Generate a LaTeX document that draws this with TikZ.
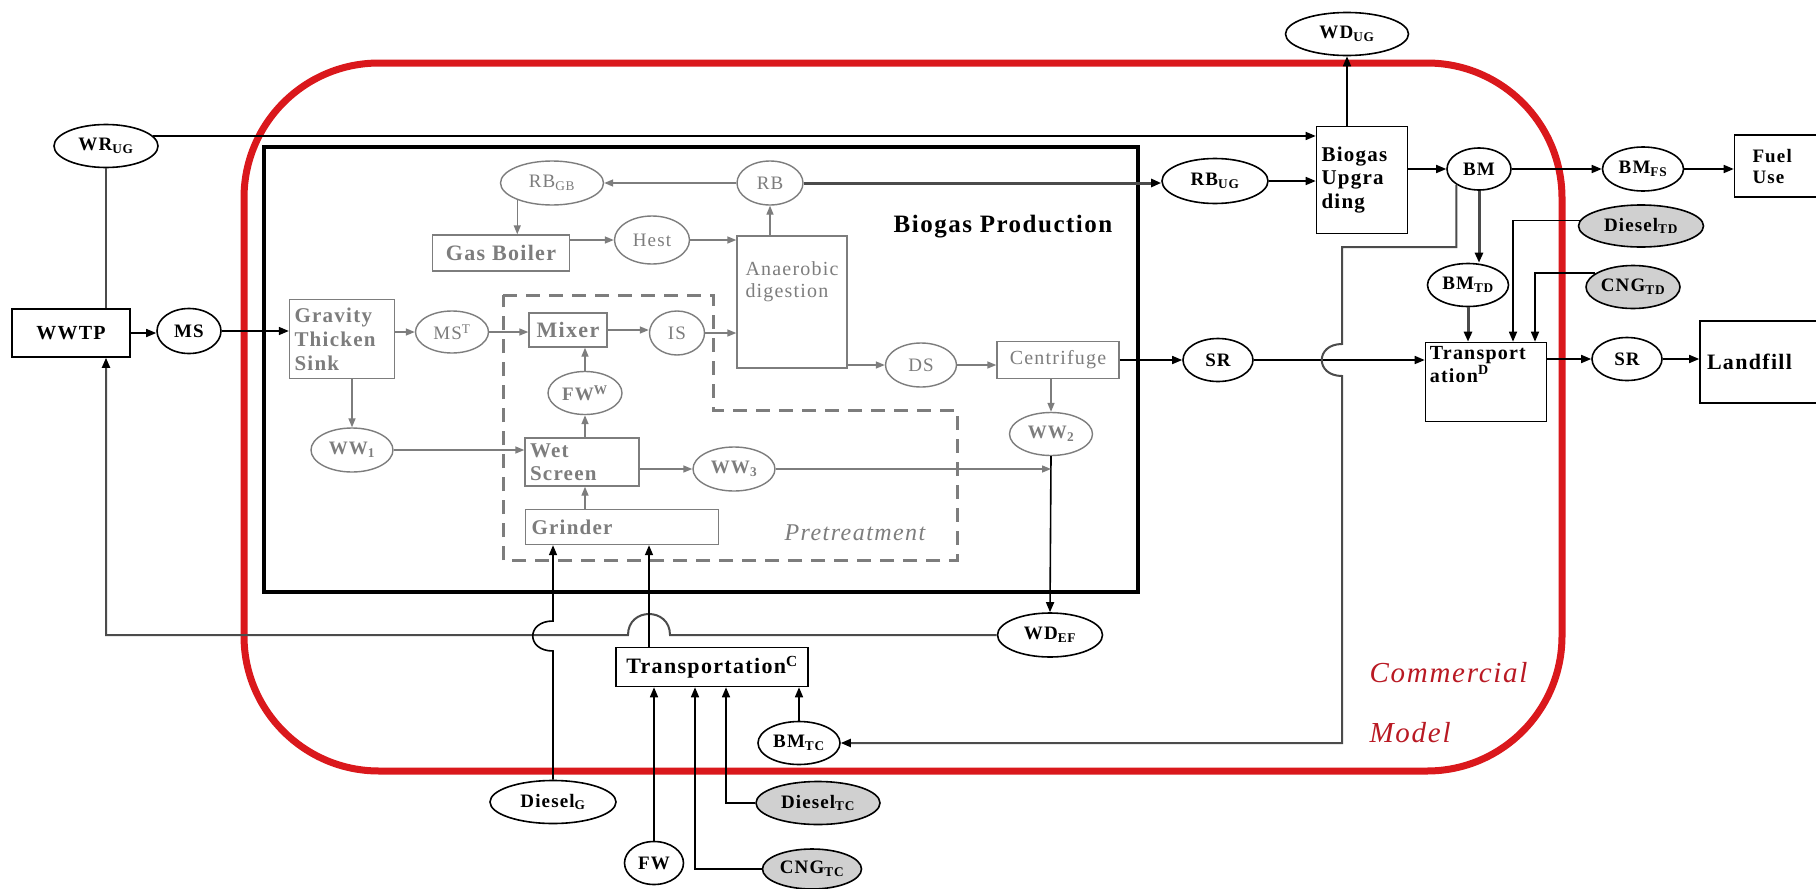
\documentclass[tikz,border=0pt]{standalone}
\usepackage{fontspec}
\setmainfont{Liberation Serif}[LetterSpace=6]
\usetikzlibrary{arrows.meta,shapes.geometric,calc}
\definecolor{ig}{RGB}{125,125,125}
\definecolor{dg}{RGB}{75,75,75}
\definecolor{fg}{RGB}{208,208,208}
\definecolor{rl}{RGB}{218,24,28}
\definecolor{rt}{RGB}{185,25,35}
\begin{document}
\begin{tikzpicture}[x=1pt,y=-1pt,
  ob/.style={draw, line width=1.6pt, fill=white, inner sep=0pt, font=\fontsize{19}{22}\selectfont\bfseries},
  oe/.style={ob, ellipse},
  obox/.style={ob, rectangle, inner xsep=5pt, align=left},
  ge/.style={draw=ig, text=ig, line width=1.4pt, fill=white, ellipse, inner sep=0pt, font=\fontsize{19}{22}\selectfont},
  gbox/.style={draw=ig, text=ig, line width=1.4pt, fill=white, rectangle, inner sep=0pt, inner xsep=5pt, align=left, font=\fontsize{21}{24}\selectfont\bfseries},
  ar/.style={line width=1.6pt, -{Triangle[length=10pt,width=8pt]}},
  gar/.style={draw=ig, line width=1.4pt, -{Triangle[length=9pt,width=7pt]}},
  thk/.style={draw=dg, line width=3pt, -{Triangle[length=10pt,width=8pt,color=black]}}
]
\useasboundingbox (0,0) rectangle (1816,889);
\clip (0,0) rectangle (1816,889);
\fill[white] (0,0) rectangle (1816,889);

% commercial model frame
\draw[rl, line width=7pt, rounded corners=135pt] (244,63) rectangle (1562,771);
% biogas production frame
\node[draw, line width=3.5pt, minimum width=874, minimum height=445, inner sep=0pt] (bp) at (701,369.5) {};
% pretreatment dashed region
\draw[ig, line width=3pt, dash pattern=on 14pt off 9pt] (503,295) -- (713,295) -- (713,410) -- (957,410) -- (957,560) -- (503,560) -- cycle;

% ---------- outer nodes ----------
\node[obox, minimum width=118, minimum height=48, align=center, font=\fontsize{20}{24}\selectfont\bfseries] (WWTP) at (71,333) {WWTP};
\node[oe, minimum width=64, minimum height=45] (MS) at (189,331) {MS};
\node[oe, minimum width=104, minimum height=43] (WRUG) at (106,146) {WR\textsubscript{UG}};
\node[oe, minimum width=123, minimum height=43] (WDUG) at (1347,34) {WD\textsubscript{UG}};
\node[oe, minimum width=106, minimum height=45] (RBUG) at (1215,181) {RB\textsubscript{UG}};
\node[obox, minimum width=91, minimum height=107, text width=81, font=\fontsize{21}{23.5}\selectfont\bfseries] (BU) at (1362,180) {Biogas\\Upgra\\ding};
\node[oe, minimum width=64, minimum height=42] (BM) at (1479,169) {BM};
\node[oe, minimum width=81, minimum height=44] (BMFS) at (1643,169) {BM\textsubscript{FS}};
\node[obox, minimum width=101, minimum height=62, inner xsep=18pt, text width=65, font=\fontsize{19}{21}\selectfont\bfseries] (Fuel) at (1785,166) {Fuel\\Use};
\node[oe, fill=fg, minimum width=125, minimum height=42] (DieselTD) at (1641,226) {Diesel\textsubscript{TD}};
\node[oe, fill=fg, minimum width=94, minimum height=43] (CNGTD) at (1633,287) {CNG\textsubscript{TD}};
\node[oe, minimum width=81, minimum height=43] (BMTD) at (1468,285) {BM\textsubscript{TD}};
\node[obox, minimum width=121, minimum height=79,
  label={[anchor=north west, inner sep=0pt, align=left, font=\fontsize{20}{23}\selectfont\bfseries, xshift=5pt, yshift=-4pt]north west:Transport\\ation\textsuperscript{D}}] (TD) at (1486,382) {};
\node[oe, minimum width=70, minimum height=43] (SR2) at (1627,359) {SR};
\node[obox, minimum width=136, minimum height=82, inner xsep=7pt, text width=122, font=\fontsize{22}{25}\selectfont\bfseries] (Landfill) at (1768,362) {Landfill};
\node[oe, minimum width=70, minimum height=43] (SR1) at (1218,360) {SR};
\node[oe, minimum width=105, minimum height=44] (WDEF) at (1050,635) {WD\textsubscript{EF}};
\node[obox, minimum width=192, minimum height=39, align=center, font=\fontsize{22}{25}\selectfont\bfseries] (TC) at (712,667) {Transportation\textsuperscript{C}};
\node[oe, minimum width=82, minimum height=43] (BMTC) at (799,743) {BM\textsubscript{TC}};
\node[oe, fill=fg, minimum width=124, minimum height=43] (DieselTC) at (818,803) {Diesel\textsubscript{TC}};
\node[oe, fill=fg, minimum width=99, minimum height=40] (CNGTC) at (812,869) {CNG\textsubscript{TC}};
\node[oe, minimum width=59, minimum height=43] (FW) at (654,863) {FW};
\node[oe, minimum width=126, minimum height=43] (DieselG) at (553,802) {Diesel\textsubscript{G}};

% ---------- inner (grey) nodes ----------
\node[gbox, minimum width=105, minimum height=79, text width=95] (Gravity) at (342,339) {Gravity\\Thicken\\Sink};
\node[ge, minimum width=73, minimum height=42] (MST) at (452,332) {MS\textsuperscript{T}};
\node[gbox, minimum width=78, minimum height=34, align=center, font=\fontsize{22}{24}\selectfont\bfseries] (Mixer) at (568,330) {Mixer};
\node[ge, minimum width=55, minimum height=44] (IS) at (677,333) {IS};
\node[ge, minimum width=74, minimum height=43, font=\fontsize{19}{22}\selectfont\bfseries] (FWW) at (585,393) {FW\textsuperscript{W}};
\node[gbox, minimum width=114, minimum height=48, text width=104, font=\fontsize{21}{23}\selectfont\bfseries] (WetScreen) at (582,462) {Wet\\Screen};
\node[gbox, minimum width=193, minimum height=35, inner xsep=6pt, text width=181] (Grinder) at (622,527) {Grinder};
\node[ge, minimum width=82, minimum height=44, font=\fontsize{19}{22}\selectfont\bfseries] (WW1) at (352,450) {WW\textsubscript{1}};
\node[ge, minimum width=82, minimum height=44, font=\fontsize{19}{22}\selectfont\bfseries] (WW3) at (734,469) {WW\textsubscript{3}};
\node[ge, minimum width=83, minimum height=43, font=\fontsize{19}{22}\selectfont\bfseries] (WW2) at (1051,434) {WW\textsubscript{2}};
\node[ge, minimum width=103, minimum height=44] (RBGB) at (552,183) {RB\textsubscript{GB}};
\node[ge, minimum width=66, minimum height=44] (RB) at (770,183) {RB};
\node[gbox, minimum width=137, minimum height=36, align=center, font=\fontsize{22}{24}\selectfont\bfseries] (GasBoiler) at (501,253) {Gas Boiler};
\node[ge, minimum width=75, minimum height=48] (Hest) at (652,240) {Hest};
\node[gbox, minimum width=110, minimum height=132,
  label={[anchor=north west, inner sep=0pt, align=left, text=ig, font=\fontsize{20}{22}\selectfont, xshift=9pt, yshift=-26pt]north west:Anaerobic\\digestion}] (AD) at (792,302) {};
\node[ge, minimum width=71, minimum height=44] (DS) at (921,365) {DS};
\node[gbox, minimum width=122, minimum height=37, align=center, font=\fontsize{20}{22}\selectfont] (Centrifuge) at (1058,360) {Centrifuge};

% ---------- titles ----------
\node[font=\fontsize{25}{28}\selectfont\bfseries] (bptitle) at (1003,227) {Biogas Production};
\node[text=ig, font=\fontsize{24}{28}\selectfont\itshape] (pretitle) at (855,533) {Pretreatment};
\node[text=rt, font=\fontsize{29}{34}\selectfont\itshape, anchor=west] (comm) at (1366,673) {Commercial};
\node[text=rt, font=\fontsize{29}{34}\selectfont\itshape, anchor=west] (model) at (1366,733) {Model};

\coordinate (tcg) at ($(TC.north)+(-63,0)$);

% ---------- black connectors ----------
\draw[ar] (WWTP.east) -- (MS.west |- WWTP.east);
\draw[ar] (MS.east) -- (Gravity.west |- MS.east);
\draw[ar] (WRUG.12) -- (WRUG.12 -| BU.west);
\draw[dg, line width=2pt] (WRUG.south) -- (WRUG.south |- WWTP.north);
\draw[dg, line width=2pt, -{Triangle[length=10pt,width=8pt,color=black]}] (WDEF.west) -- (670,635) .. controls (670,607) and (628,607) .. (628,635) -- (WRUG.south |- WDEF.west) -- (WRUG.south |- WWTP.south);
\draw[thk] (RB.east) -- (RBUG.west |- RB.east);
\draw[ar] (RBUG.east) -- (RBUG.east -| BU.west);
\draw[ar] (BU.north -| WDUG.south) -- (WDUG.south);
\draw[ar] (BU.east |- BM.west) -- (BM.west);
\draw[ar] (BM.east) -- (BMFS.west);
\draw[ar] (BMFS.east) -- (BMFS.east -| Fuel.west);
\draw[thk] (BM.south) -- (BMTD.north -| BM.south);
\draw[thk] (BMTD.south) -- (TD.north -| BMTD.south);
\draw[ar] (DieselTD.175) -| ($(TD.north)+(27,0)$);
\draw[ar] (CNGTD.160) -| ($(TD.north)+(49,0)$);
\draw[ar] (TD.east |- SR2.west) -- (SR2.west);
\draw[ar] (SR2.east) -- (SR2.east -| Landfill.west);
\draw[ar] (Centrifuge.east) -- (SR1.west);
\draw[ar] (SR1.east) -- (SR1.east -| TD.west);
\draw[dg, line width=2pt, -{Triangle[length=10pt,width=8pt,color=black]}] (BM.215) |- (1342,247) -- (1342,344) .. controls (1315,344) and (1315,376) .. (1342,376) -- (1342,743) -- (BMTC.east);
\draw[ar] (BMTC.north) -- (TC.south -| BMTC.north);
\draw[ar] (DieselTC.west) -| ($(TC.south)+(14,0)$);
\draw[ar] (CNGTC.west) -| ($(TC.south)+(-17,0)$);
\draw[ar] (FW.north) -- (TC.south -| FW.north);
\draw[ar] (tcg) -- (tcg |- Grinder.south);
\draw[ar] (DieselG.north) -- (553,651) .. controls (526,651) and (526,621) .. (553,621) -- (Grinder.south -| DieselG.north);
\draw[ar] (WW2.south) -- (WDEF.north);

% ---------- grey connectors ----------
\draw[gar] (WW3.east) -- (WW3.east -| WW2.south);
\draw[gar] (Centrifuge.south -| WW2.north) -- (WW2.north);
\draw[gar] (Gravity.east |- MST.west) -- (MST.west);
\draw[gar] (MST.east) -- (MST.east -| Mixer.west);
\draw[gar] (Mixer.east) -- (Mixer.east -| IS.west);
\draw[gar] (IS.east) -- (IS.east -| AD.west);
\draw[gar] (FWW.north) -- (FWW.north |- Mixer.south);
\draw[gar] (WetScreen.north -| FWW.south) -- (FWW.south);
\draw[gar] (Grinder.north -| FWW.south) -- (WetScreen.south -| FWW.south);
\draw[gar] (Gravity.south -| WW1.north) -- (WW1.north);
\draw[gar] (WW1.east) -- (WW1.east -| WetScreen.west);
\draw[gar] (WetScreen.east |- WW3.west) -- (WW3.west);
\draw[gar] (RB.west) -- (RBGB.east);
\draw[gar] (RBGB.206) -- (RBGB.206 |- GasBoiler.north);
\draw[gar] (GasBoiler.east |- Hest.west) -- (Hest.west);
\draw[gar] (Hest.east) -- (Hest.east -| AD.west);
\draw[gar] (AD.north -| RB.south) -- (RB.south);
\draw[gar] (AD.east |- DS.west) -- (DS.west);
\draw[gar] (DS.east) -- (DS.east -| Centrifuge.west);
\end{tikzpicture}
\end{document}
